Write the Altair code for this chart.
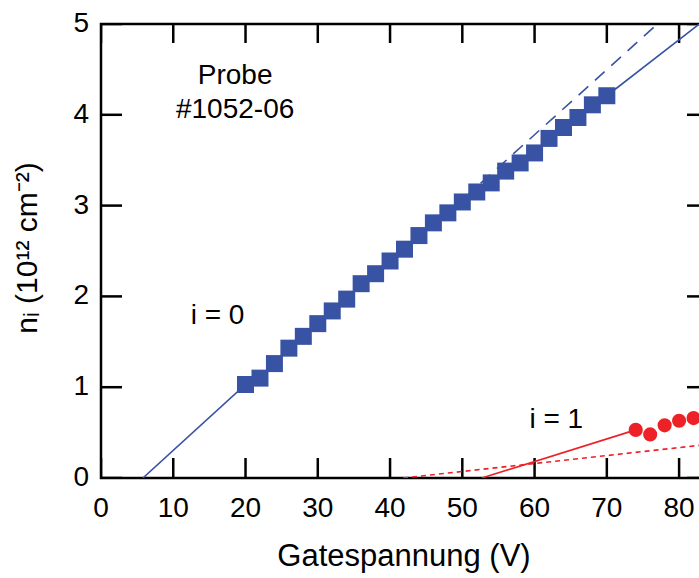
import altair as alt
import pandas as pd

FONT = "Liberation Sans"
BLUE = "#3953a4"
RED = "#ec2227"

# i = 0 data (squares)
sq_x = [20, 22, 24, 26, 28, 30, 32, 34, 36, 38, 40, 42, 44, 46, 48, 50,
        52, 54, 56, 58, 60, 62, 64, 66, 68, 70]
sq_y = [1.03, 1.10, 1.26, 1.43, 1.56, 1.70, 1.84, 1.97, 2.14, 2.25, 2.39,
        2.52, 2.67, 2.81, 2.92, 3.04, 3.15, 3.25, 3.38, 3.47, 3.58, 3.74,
        3.86, 3.97, 4.11, 4.21]

# i = 1 data (circles)
ci_x = [74, 76, 78, 80, 82]
ci_y = [0.53, 0.48, 0.58, 0.63, 0.66]

# fit line ends (solid blue runs through the squares)
fit0_start = (5.8, 0.0)
fit0_end = (82.8, 5.0)
fit0d_x = [48, 77]
fit0d_y = [2.92, 5.0]
fit1_x = [52.7, 74]
fit1_y = [0.0, 0.53]
fit1d_x = [41.8, 84]
fit1d_y = [0.0, 0.37]

x_ticks = [0, 10, 20, 30, 40, 50, 60, 70, 80]
y_ticks = [0, 1, 2, 3, 4, 5]
x_title = "Gatespannung (V)"
y_title = "nᵢ (10¹² cm⁻²)"

W, H = 607, 454
X_MAX, Y_MAX = 84, 5
xs = alt.Scale(domain=[0, X_MAX], nice=False, zero=False)
ys = alt.Scale(domain=[0, Y_MAX], nice=False, zero=False)

# inward tick lengths expressed in data units of the scales
tx = 21 * X_MAX / W     # horizontal ticks on left/right edges
ty_b = 20 * Y_MAX / H   # vertical ticks on bottom edge
ty_t = 19 * Y_MAX / H   # vertical ticks on top edge

rows = []
for v in x_ticks:
    rows += [dict(x=v, y=0, g=f"b{v}", o=0), dict(x=v, y=ty_b, g=f"b{v}", o=1)]
    rows += [dict(x=v, y=Y_MAX, g=f"t{v}", o=0), dict(x=v, y=Y_MAX - ty_t, g=f"t{v}", o=1)]
for v in y_ticks:
    rows += [dict(x=0, y=v, g=f"l{v}", o=0), dict(x=tx, y=v, g=f"l{v}", o=1)]
    rows += [dict(x=X_MAX, y=v, g=f"r{v}", o=0), dict(x=X_MAX - tx, y=v, g=f"r{v}", o=1)]
tick_df = pd.DataFrame(rows)

sq_df = pd.DataFrame({"x": sq_x, "y": sq_y})
ci_df = pd.DataFrame({"x": ci_x, "y": ci_y})
xl_df = pd.DataFrame({"x": x_ticks, "t": [str(v) for v in x_ticks]})
yl_df = pd.DataFrame({"y": y_ticks, "t": [str(v) for v in y_ticks]})

xq = alt.X("x:Q", scale=xs, axis=None)
yq = alt.Y("y:Q", scale=ys, axis=None)
enc = dict(x=xq, y=yq)

ticks = alt.Chart(tick_df).mark_line(
    color="black", strokeWidth=2.5, clip=True, strokeCap="butt"
).encode(detail="g:N", order="o:Q", **enc)

LBL = dict(font=FONT, fontSize=28, color="black")
labels_x = alt.Chart(xl_df).mark_text(align="center", baseline="top", **LBL).encode(
    x=xq, y=alt.value(H + 17), text="t:N")
labels_y = alt.Chart(yl_df).mark_text(align="right", baseline="middle", **LBL).encode(
    y=yq, x=alt.value(-12), text="t:N")

title_df = pd.DataFrame({"t": [x_title]})
ytitle_df = pd.DataFrame({"t": [y_title]})
title_x = alt.Chart(title_df).mark_text(
    font=FONT, fontSize=31, color="black", align="center", baseline="alphabetic"
).encode(x=alt.value(303), y=alt.value(H + 88), text="t:N")
title_y = alt.Chart(ytitle_df).mark_text(
    font=FONT, fontSize=30, color="black", align="center", baseline="alphabetic",
    angle=270,
).encode(x=alt.value(-64), y=alt.value(224), text="t:N")


def line(xv, yv, color, dash=None, width=1.6):
    df = pd.DataFrame({"x": xv, "y": yv, "o": list(range(len(xv)))})
    kw = dict(color=color, strokeWidth=width, clip=True)
    if dash:
        kw["strokeDash"] = dash
    return alt.Chart(df).mark_line(**kw).encode(order="o:Q", **enc)


l0 = line([fit0_start[0]] + sq_x + [fit0_end[0]],
          [fit0_start[1]] + sq_y + [fit0_end[1]], BLUE)
l0d = line(fit0d_x, fit0d_y, BLUE, dash=[13, 9])
l1 = line(fit1_x, fit1_y, RED)
l1d = line(fit1d_x, fit1d_y, RED, dash=[5, 4])

circles = alt.Chart(ci_df).mark_circle(size=200, color=RED, opacity=1).encode(**enc)
squares = alt.Chart(sq_df).mark_square(size=289, color=BLUE, opacity=1).encode(**enc)

ann_df = pd.DataFrame({
    "x": [18.56, 18.56, 16.13, 63.0],
    "y": [4.334, 3.96, 1.70, 0.546],
    "t": ["Probe", "#1052-06", "i = 0", "i = 1"],
})
texts = alt.Chart(ann_df).mark_text(
    font=FONT, fontSize=28, align="center", baseline="alphabetic", color="black"
).encode(text="t:N", **enc)

chart = alt.layer(
    ticks, l0, l0d, l1, l1d, circles, squares, texts,
    labels_x, labels_y, title_x, title_y,
).properties(
    width=W, height=H,
    autosize=alt.AutoSizeParams(type="none"),
    padding={"left": 101, "top": 24, "right": -9, "bottom": 100},
    background="white",
).configure_view(stroke="black", strokeWidth=2.5)

chart.save("out.html", embed_options={"renderer": "svg", "actions": False})
